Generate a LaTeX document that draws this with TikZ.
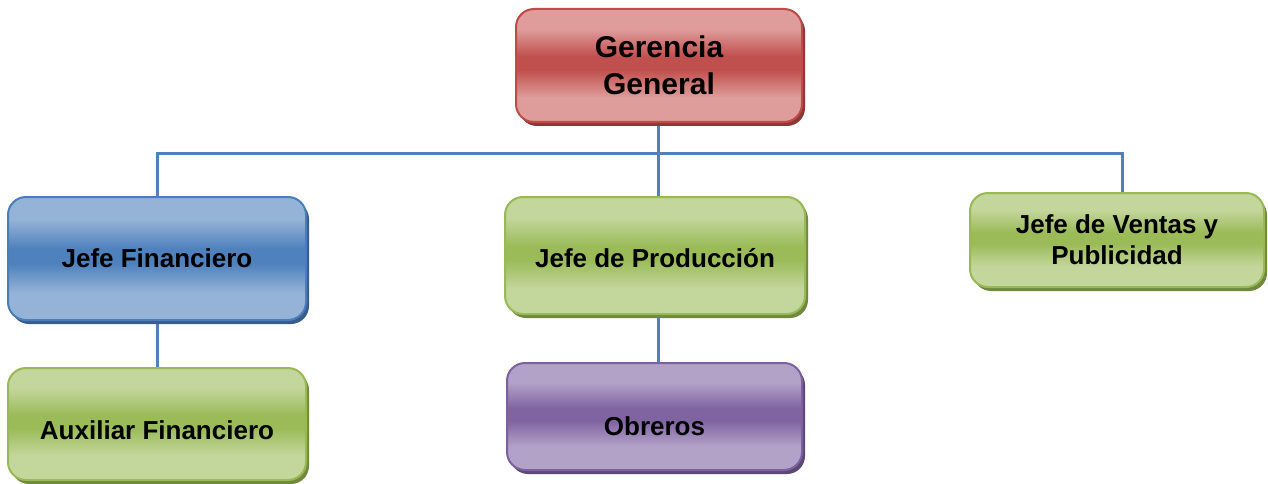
\documentclass[tikz,border=0pt]{standalone}
\usepackage{fontspec}
\setmainfont{Liberation Sans}
\usetikzlibrary{shadows,backgrounds}
\definecolor{redL}{HTML}{DE9C9B}
\definecolor{redD}{HTML}{C0504D}
\definecolor{redB}{HTML}{BE4B48}
\definecolor{redS}{HTML}{8C3836}
\definecolor{bluL}{HTML}{95B3D7}
\definecolor{bluD}{HTML}{4F81BD}
\definecolor{bluB}{HTML}{4A7EBB}
\definecolor{bluS}{HTML}{385D8A}
\definecolor{grnL}{HTML}{C3D69B}
\definecolor{grnD}{HTML}{9BBB59}
\definecolor{grnB}{HTML}{98B954}
\definecolor{grnS}{HTML}{71893F}
\definecolor{purL}{HTML}{B3A2C7}
\definecolor{purD}{HTML}{8064A2}
\definecolor{purB}{HTML}{7D60A0}
\definecolor{purS}{HTML}{5C4776}
\definecolor{lineC}{HTML}{4F81BD}
\pgfdeclareverticalshading{redsh}{100bp}{color(0bp)=(redL); color(25bp)=(redL); color(36bp)=(redL); color(48bp)=(redD); color(54bp)=(redD); color(66bp)=(redL); color(75bp)=(redL); color(100bp)=(redL)}
\pgfdeclareverticalshading{blush}{100bp}{color(0bp)=(bluL); color(25bp)=(bluL); color(36bp)=(bluL); color(48bp)=(bluD); color(54bp)=(bluD); color(66bp)=(bluL); color(75bp)=(bluL); color(100bp)=(bluL)}
\pgfdeclareverticalshading{grnsh}{100bp}{color(0bp)=(grnL); color(25bp)=(grnL); color(36bp)=(grnL); color(48bp)=(grnD); color(54bp)=(grnD); color(66bp)=(grnL); color(75bp)=(grnL); color(100bp)=(grnL)}
\pgfdeclareverticalshading{pursh}{100bp}{color(0bp)=(purL); color(25bp)=(purL); color(36bp)=(purL); color(48bp)=(purD); color(54bp)=(purD); color(66bp)=(purL); color(75bp)=(purL); color(100bp)=(purL)}
\newcommand{\lowertext}[2]{\raisebox{0pt}[\dimexpr\height+#1\relax]{#2}}
\tikzset{
  box/.style={rectangle, rounded corners=18pt, line width=2pt, inner sep=0pt,
    align=center, font=\fontsize{26}{31}\selectfont\bfseries},
  redbox/.style={box, draw=redB, shading=redsh, general shadow={fill=redS, shadow xshift=3pt, shadow yshift=-4pt}},
  blubox/.style={box, draw=bluB, shading=blush, general shadow={fill=bluS, shadow xshift=3pt, shadow yshift=-4pt}},
  grnbox/.style={box, draw=grnB, shading=grnsh, general shadow={fill=grnS, shadow xshift=3pt, shadow yshift=-4pt}},
  purbox/.style={box, draw=purB, shading=pursh, general shadow={fill=purS, shadow xshift=3pt, shadow yshift=-4pt}},
  conn/.style={draw=lineC, line width=3pt}
}
\begin{document}
\begin{tikzpicture}[x=1pt,y=-1pt]
\useasboundingbox (0,0) rectangle (1268,484);
\node[redbox, minimum width=286pt, minimum height=113pt, font=\fontsize{30}{37}\selectfont\bfseries] (gg) at (659,65.5) {Gerencia\\General};
\node[blubox, minimum width=298pt, minimum height=123pt] (jf) at (157,258.5) {Jefe Financiero};
\node[grnbox, minimum width=300pt, minimum height=117pt] (jp) at (655,255.5) {\lowertext{6pt}{Jefe de Producción}};
\node[grnbox, minimum width=294pt, minimum height=94pt] (jv) at (1117,240) {Jefe de Ventas y\\Publicidad};
\node[grnbox, minimum width=298pt, minimum height=112pt] (af) at (157,424) {\lowertext{12pt}{Auxiliar Financiero}};
\node[purbox, minimum width=295pt, minimum height=107pt] (ob) at (654.5,416.5) {\lowertext{20pt}{Obreros}};
\coordinate (busL) at (157,153);
\coordinate (busR) at (1122,153);
\coordinate (busM) at (658,153);
\coordinate (jvTop) at (1122,193);
\coordinate (jpTop) at (658,197);
\coordinate (jpBot) at (658,314);
\coordinate (obTop) at (658,363);
\coordinate (ggBot) at (658,122);
\begin{scope}[on background layer]
\draw[conn] (jf.north) -- (busL) -- (busR) -- (jvTop);
\draw[conn] (ggBot) -- (busM) -- (jpTop);
\draw[conn] (jf.south) -- (af.north);
\draw[conn] (jpBot) -- (obTop);
\end{scope}
\end{tikzpicture}
\end{document}
